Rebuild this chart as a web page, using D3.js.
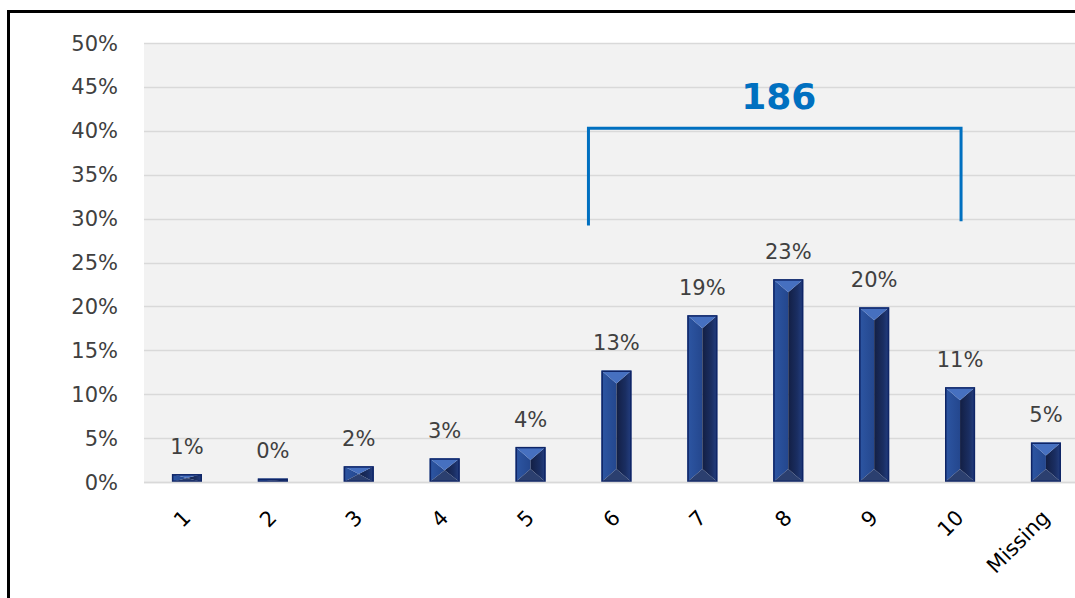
<!DOCTYPE html>
<html>
<head>
<meta charset="utf-8">
<script src="https://cdn.jsdelivr.net/npm/d3@7"></script>
<style>
  html, body { margin: 0; padding: 0; background: #ffffff; }
  svg { display: block; }
  text { font-family: "DejaVu Sans", Verdana, sans-serif; }
</style>
</head>
<body>
<svg id="chart" width="1075" height="598"></svg>
<script>
// ---- data ----
const categories = ["1", "2", "3", "4", "5", "6", "7", "8", "9", "10", "Missing"];
const values = [0.009, 0.004, 0.018, 0.027, 0.040, 0.127, 0.190, 0.231, 0.199, 0.108, 0.045];
const valueLabels = ["1%", "0%", "2%", "3%", "4%", "13%", "19%", "23%", "20%", "11%", "5%"];
const yTicks = [0, 0.05, 0.10, 0.15, 0.20, 0.25, 0.30, 0.35, 0.40, 0.45, 0.50];
const yTickLabels = ["0%", "5%", "10%", "15%", "20%", "25%", "30%", "35%", "40%", "45%", "50%"];
const bracketCats = ["6", "10"];
const bracketLevels = [0.292, 0.403, 0.297]; // left bottom, top, right bottom
const bracketLabel = "186";

// ---- layout ----
const svg = d3.select("#chart");
const W = 1075, H = 598;
const plotLeft = 144, plotTop = 43, plotBottom = 482;
const step = 85.9;
const plotRight = plotLeft + step * categories.length;

const x = d3.scaleBand().domain(categories)
  .range([plotLeft, plotRight]).paddingInner(0.65).paddingOuter(0.325);
const y = d3.scaleLinear().domain([0, 0.5]).range([plotBottom, plotTop]);

const textColor = "#404040";
const fs = 21;

// gradients
const defs = svg.append("defs");
const gLeft = defs.append("linearGradient").attr("id", "leftf").attr("x1", 0).attr("x2", 1).attr("y1", 0).attr("y2", 0);
gLeft.append("stop").attr("offset", "0%").attr("stop-color", "#2d56a3");
gLeft.append("stop").attr("offset", "100%").attr("stop-color", "#24478e");
const gRight = defs.append("linearGradient").attr("id", "rightf").attr("x1", 0).attr("x2", 1).attr("y1", 0).attr("y2", 0);
gRight.append("stop").attr("offset", "0%").attr("stop-color", "#131f44");
gRight.append("stop").attr("offset", "60%").attr("stop-color", "#1a2e62");
gRight.append("stop").attr("offset", "100%").attr("stop-color", "#243f82");

// plot background
svg.append("rect")
  .attr("x", plotLeft).attr("y", plotTop)
  .attr("width", W - plotLeft).attr("height", plotBottom - plotTop)
  .attr("fill", "#f2f2f2");

// gridlines
svg.append("g").selectAll("line").data(yTicks).join("line")
  .attr("x1", plotLeft).attr("x2", W)
  .attr("y1", d => Math.round(y(d)) + 0.5).attr("y2", d => Math.round(y(d)) + 0.5)
  .attr("stroke", "#d9d9d9").attr("stroke-width", 1.5);

// y tick labels
svg.append("g").selectAll("text").data(yTicks).join("text")
  .attr("x", 118).attr("y", d => y(d))
  .attr("dy", "0.36em")
  .attr("text-anchor", "end")
  .attr("font-size", fs)
  .attr("fill", textColor)
  .text((d, i) => yTickLabels[i]);

// bars with angled bevel
const bw = x.bandwidth();
const bars = svg.append("g").selectAll("g").data(categories).join("g");
bars.each(function (c, i) {
  const g = d3.select(this);
  const x0 = x(c), x1 = x(c) + bw, xc = x(c) + bw / 2;
  const y0 = y(values[i]), y1 = y(0);
  const h = y1 - y0;
  const b = Math.min(13, h / 2);
  // left face
  g.append("path").attr("d", `M${x0},${y0}L${xc},${y0 + b}L${xc},${y1 - b}L${x0},${y1}Z`).attr("fill", "url(#leftf)");
  // right face
  g.append("path").attr("d", `M${x1},${y0}L${xc},${y0 + b}L${xc},${y1 - b}L${x1},${y1}Z`).attr("fill", "url(#rightf)");
  // top triangle
  g.append("path").attr("d", `M${x0},${y0}L${x1},${y0}L${xc},${y0 + b}Z`).attr("fill", "#4670c0");
  // bottom triangle
  g.append("path").attr("d", `M${x0},${y1}L${x1},${y1}L${xc},${y1 - b}Z`).attr("fill", "#2b3f6f");
  // outline
  g.append("rect").attr("x", x0 + 0.75).attr("y", y0 + 0.75).attr("width", bw - 1.5).attr("height", Math.max(0, h - 1.5))
    .attr("fill", "none").attr("stroke", "#0f2566").attr("stroke-width", 1.5);
});

// x axis line
svg.append("line")
  .attr("x1", plotLeft).attr("x2", W)
  .attr("y1", plotBottom + 0.5).attr("y2", plotBottom + 0.5)
  .attr("stroke", "#d9d9d9").attr("stroke-width", 1.5);

// value labels
svg.append("g").selectAll("text").data(categories).join("text")
  .attr("x", c => x(c) + bw / 2)
  .attr("y", (c, i) => y(values[i]) - 20)
  .attr("text-anchor", "middle")
  .attr("font-size", fs)
  .attr("fill", textColor)
  .text((c, i) => valueLabels[i]);

// x tick labels (rotated)
svg.append("g").selectAll("text").data(categories).join("text")
  .attr("transform", c => `translate(${x(c) + bw / 2 + 5},${519}) rotate(-45)`)
  .attr("text-anchor", "end")
  .attr("font-size", fs)
  .attr("fill", "#000000")
  .text(c => c);

// bracket
const bL = x(bracketCats[0]) + bw / 2 - 28;
const bR = x(bracketCats[1]) + bw / 2 + 1;
svg.append("path")
  .attr("d", `M${bL},${y(bracketLevels[0])}L${bL},${y(bracketLevels[1])}L${bR},${y(bracketLevels[1])}L${bR},${y(bracketLevels[2])}`)
  .attr("fill", "none").attr("stroke", "#0070c0").attr("stroke-width", 3);
svg.append("text")
  .attr("x", (bL + bR) / 2 + 4).attr("y", y(bracketLevels[1]) - 19)
  .attr("text-anchor", "middle")
  .attr("font-size", 36).attr("font-weight", "bold")
  .attr("fill", "#0070c0")
  .text(bracketLabel);

// outer frame (left and top edges visible)
svg.append("path")
  .attr("d", `M8.5,${H}L8.5,11.5L${W},11.5`)
  .attr("fill", "none").attr("stroke", "#000000").attr("stroke-width", 3);
</script>
</body>
</html>
